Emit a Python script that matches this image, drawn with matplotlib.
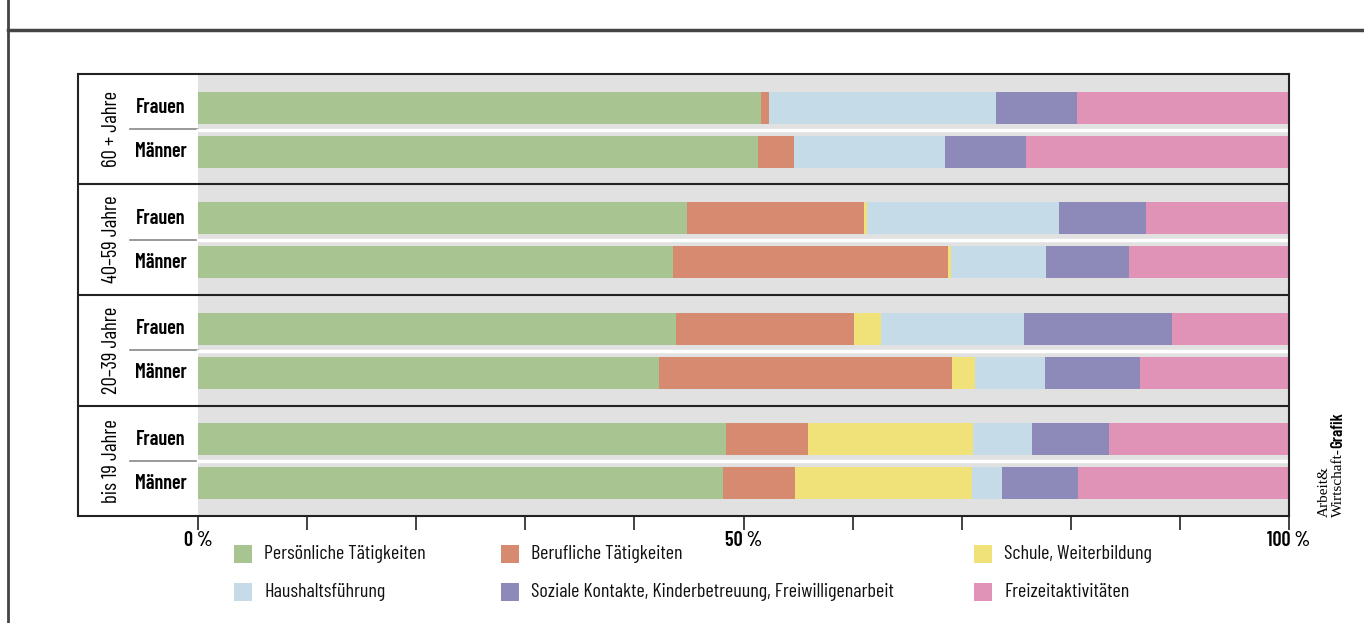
import numpy as np
import matplotlib
matplotlib.use("Agg")
import matplotlib.pyplot as plt
from matplotlib.lines import Line2D
from matplotlib.patches import Rectangle

plt.rcParams['font.family'] = ['Barlow Condensed', 'DejaVu Sans']

groups = ["60 + Jahre", "40–59 Jahre", "20–39 Jahre", "bis 19 Jahre"]
sexes = ["Frauen", "Männer"]
categories = ["Persönliche Tätigkeiten", "Berufliche Tätigkeiten", "Schule, Weiterbildung",
              "Haushaltsführung", "Soziale Kontakte, Kinderbetreuung, Freiwilligenarbeit",
              "Freizeitaktivitäten"]
colors = ["#a8c490", "#d68b70", "#f0e178", "#c5dce8", "#8d89b8", "#e193b7"]

# shares in %, order: groups top to bottom, Frauen then Männer
persoenlich = [51.6, 51.3, 44.8, 43.5, 43.8, 42.3, 48.4, 48.1]
beruflich = [0.7, 3.3, 16.2, 25.2, 16.3, 26.8, 7.5, 6.6]
schule = [0.0, 0.0, 0.3, 0.3, 2.5, 2.1, 15.1, 16.2]
haushalt = [20.8, 13.9, 17.6, 8.7, 13.1, 6.4, 5.4, 2.8]
sozial = [7.5, 7.4, 8.0, 7.6, 13.6, 8.7, 7.1, 7.0]
freizeit = [19.4, 24.1, 13.1, 14.7, 10.7, 13.7, 16.5, 19.3]
series = [persoenlich, beruflich, schule, haushalt, sozial, freizeit]

W, H = 1364, 623
fig = plt.figure(figsize=(W / 100, H / 100), dpi=100)
ax = fig.add_axes([78 / W, 1 - 516 / H, 1211 / W, 442 / H])
ax.set_xlim(-11.0, 100)
ax.set_ylim(4, 0)
ax.axvspan(0, 100, color="#e1e1e1", zorder=0, lw=0)

ypos = []
for g in range(len(groups)):
    ypos += [g + 0.306, g + 0.703]
ypos = np.array(ypos)

left = np.zeros(len(ypos))
for vals, col in zip(series, colors):
    vals = np.array(vals)
    ax.barh(ypos, vals, left=left, height=0.288, color=col, lw=0, zorder=2)
    left += vals

for g, name in enumerate(groups):
    ax.text(-7.9, g + 0.5, name, rotation=90, ha="center", va="center", fontsize=15)
    for k, s in enumerate(sexes):
        ax.text(-3.4, ypos[2 * g + k], s, ha="center", va="center", fontsize=14.5, fontweight="semibold")
    ax.plot([-6.2, 0], [g + 0.5, g + 0.5], color="#888888", lw=1.2, zorder=1)
    ax.plot([0, 100], [g + 0.505, g + 0.505], color="white", lw=2.5, zorder=1)
    if g > 0:
        ax.plot([-11, 100], [g, g], color="#222222", lw=1.5, zorder=3)

for sp in ax.spines.values():
    sp.set_color("#222222")
    sp.set_linewidth(1.5)

ticks = np.arange(0, 101, 10)
ax.set_xticks(ticks)
ax.set_xticklabels([f"{t} %" if t % 50 == 0 else "" for t in ticks], fontweight="semibold", fontsize=14.5)
ax.tick_params(axis="x", direction="out", length=10, width=1.2, pad=1, color="#222222")
ax.set_yticks([])

# legend
leg_x = [234, 501, 974]
leg_y = [554, 592]
for i, (lab, col) in enumerate(zip(categories, colors)):
    cx = leg_x[i % 3]
    cy = leg_y[i // 3]
    fig.add_artist(Rectangle((cx / W, 1 - (cy + 9) / H), 18 / W, 18 / H,
                             transform=fig.transFigure, color=col, lw=0))
    fig.text((cx + 30) / W, 1 - cy / H, lab, ha="left", va="center", fontsize=14.5, color="#111111")

# frame
fig.add_artist(Line2D([8 / W, 8 / W], [0, 1], transform=fig.transFigure, color="#444444", lw=2))
fig.add_artist(Line2D([8 / W, 1], [1 - 30 / H, 1 - 30 / H], transform=fig.transFigure, color="#444444", lw=2.5))

# credit
fig.text(1324 / W, 1 - 517 / H, "Arbeit&", rotation=90, ha="center", va="bottom",
         fontsize=11, family="Liberation Serif")
t2 = fig.text(1338 / W, 1 - 517 / H, "Wirtschaft-", rotation=90, ha="center", va="bottom",
              fontsize=11, family="Liberation Serif")
ax.annotate("Grafik", xy=(0.5, 1.0), xycoords=t2, rotation=90, ha="center", va="bottom",
            fontsize=12, fontweight="semibold", annotation_clip=False)

fig.savefig("out.png", dpi=100)
